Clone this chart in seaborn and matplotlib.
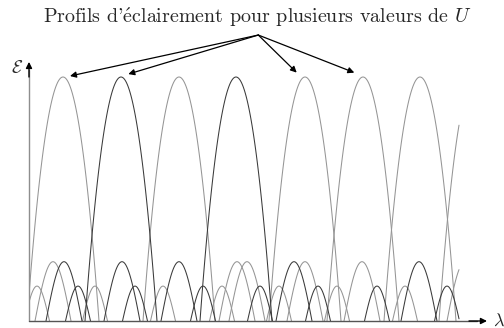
import numpy as np
import pandas as pd
import matplotlib
matplotlib.use("Agg")
import matplotlib.pyplot as plt
import seaborn as sns

# ---------------- data (lambda in arbitrary units, E normalised) ----------------
# main lobes : one per value of U
main_centers = [34, 92, 150, 207, 276, 334, 391, 446]
main_tones = ["g", "k", "g", "k", "g", "g", "g", "g"]
main_height = 1.0
main_halfwidth = 36

# first-order secondary lobes
tall_centers = [24, 35, 93, 150, 208, 218, 265, 276, 333, 390, 436]
tall_tones = ["g", "k", "k", "k", "g", "g", "k", "g", "g", "k", "g"]
tall_height = 0.243
tall_halfwidth = 18

# second-order secondary lobes
small_centers = [8, 49, 66, 106, 134, 174, 193, 231, 250, 289, 308, 348, 376, 418]
small_tones = ["g", "k", "g", "k", "g", "k", "g", "k", "g", "k", "g", "k", "g", "k"]
small_height = 0.143
small_halfwidth = 12.5

lam_min, lam_max = 0, 430

title = r"Profils d'$\mathrm{\acute{e}}$clairement pour plusieurs valeurs de $U$"
arrow_origin = (229.3, 1.172)
arrow_targets = [(41, 1.004), (99.3, 1.012), (267.7, 1.018), (325.3, 1.018)]

# ---------------- build long-form table ----------------
rows = []
lobe_id = 0
def add_lobes(centers, tones, h, hw, kind):
    global lobe_id
    for c, t in zip(centers, tones):
        a, b = max(c - hw, lam_min), min(c + hw, lam_max)
        if b <= a:
            continue
        lam = np.linspace(a, b, 120)
        u = (lam - c) / hw
        if kind == "main":
            e = h * (1 - u ** 2)
        else:
            e = h * np.cos(np.pi * u / 2)
        for l_, e_ in zip(lam, e):
            rows.append((lobe_id, t, l_, e_))
        lobe_id += 1

add_lobes(main_centers, main_tones, main_height, main_halfwidth, "main")
add_lobes(tall_centers, tall_tones, tall_height, tall_halfwidth, "sec")
add_lobes(small_centers, small_tones, small_height, small_halfwidth, "sec")
df = pd.DataFrame(rows, columns=["lobe", "tone", "lam", "E"])

# ---------------- figure ----------------
sns.set_theme(style="white")
plt.rcParams["font.family"] = ["cmr10", "DejaVu Serif"]
plt.rcParams["mathtext.fontset"] = "cm"
plt.rcParams["axes.formatter.use_mathtext"] = True

fig = plt.figure(figsize=(5.04, 3.28), dpi=100)
ax = fig.add_axes([29 / 504, 7 / 328, 475 / 504, 321 / 328])
ax.set_xlim(0, 475)
ax.set_ylim(0, 321 / 244)
ax.set_axis_off()

sns.lineplot(data=df, x="lam", y="E", units="lobe", estimator=None, hue="tone",
             palette={"g": "#959595", "k": "#3a3a3a"}, legend=False, sort=False,
             lw=0.75, ax=ax)

# axes with arrows
ax.plot([0, 0], [0, 1.03], color="#8e8e8e", lw=1.0, clip_on=False)
ax.annotate("", xy=(0, 1.062), xytext=(0, 1.0),
            arrowprops=dict(arrowstyle="-|>", color="black", lw=1.0,
                            mutation_scale=9, shrinkA=0, shrinkB=0),
            annotation_clip=False)
ax.plot([0, 448], [0, 0], color="#555555", lw=1.0, clip_on=False)
ax.annotate("", xy=(458, 0), xytext=(440, 0),
            arrowprops=dict(arrowstyle="-|>", color="black", lw=1.0,
                            mutation_scale=9, shrinkA=0, shrinkB=0),
            annotation_clip=False)
ax.text(-12, 1.037, r"$\mathcal{E}$", fontsize=13, ha="center", va="center")
ax.text(464, 0.0, r"$\lambda$", fontsize=13, ha="left", va="center")

# title and arrows
ax.text(228.5, 1.245, title, fontsize=14.4, ha="center", va="center")
for tx, ty in arrow_targets:
    ax.annotate("", xy=(tx, ty), xytext=arrow_origin,
                arrowprops=dict(arrowstyle="-|>", color="black", lw=0.9,
                                mutation_scale=9, shrinkA=0, shrinkB=0),
                annotation_clip=False)

fig.savefig("out.png", dpi=100)
